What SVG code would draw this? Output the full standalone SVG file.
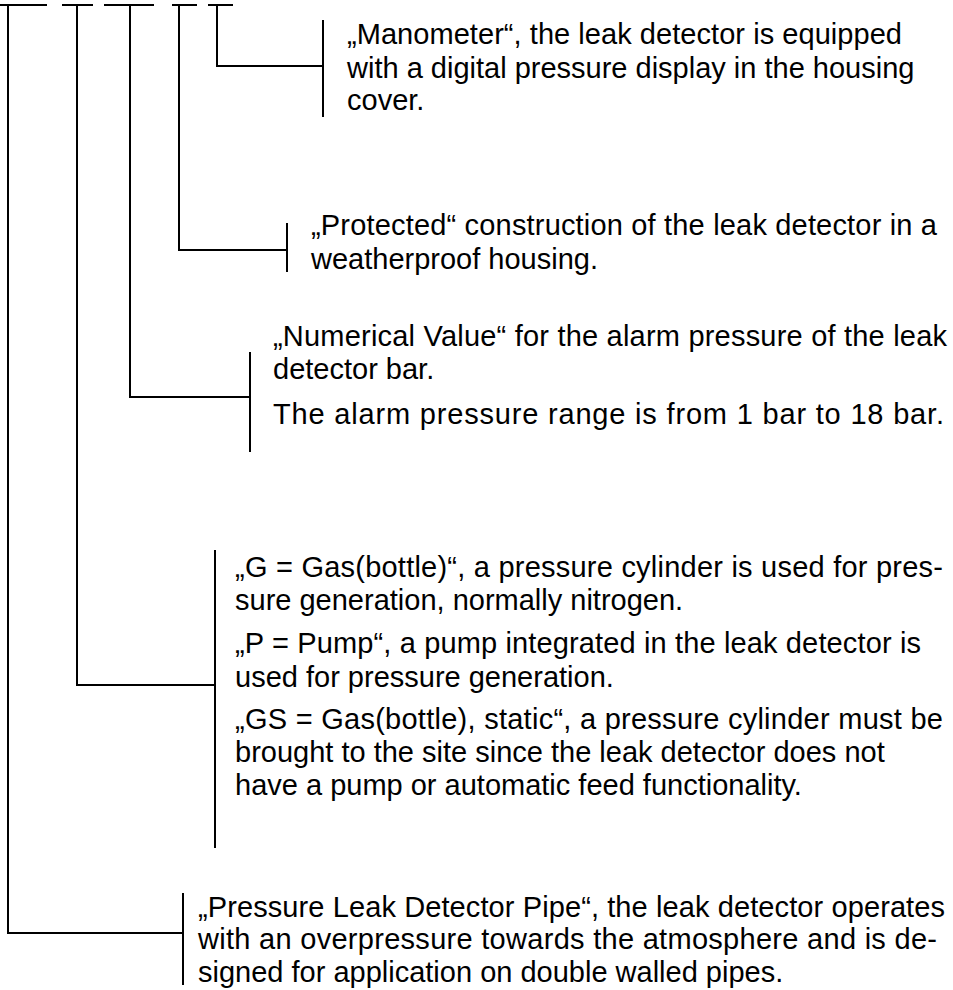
<svg xmlns="http://www.w3.org/2000/svg" width="953" height="990" viewBox="0 0 953 990">
<style>
.ln{stroke:#000;stroke-width:2;fill:none}
text{font-family:"Liberation Sans",Arial,sans-serif;font-size:29px;fill:#000}
</style>
<rect width="953" height="990" fill="#fff"/>
<g id="connectors" class="ln">
<path d="M0 5H47M62 5H93M104 5H154M172 5H197M208 5H233"/>
<path d="M8 5V933H183"/>
<path d="M77 5V685H215"/>
<path d="M130 5V397H250"/>
<path d="M179 5V250H287"/>
<path d="M217 5V66H323"/>
</g>
<g id="manometer">
<path class="ln" d="M323 20V117"/>
<text x="347" y="44" textLength="555" lengthAdjust="spacing">„Manometer“, the leak detector is equipped</text>
<text x="347" y="78">with a digital pressure display in the housing</text>
<text x="347" y="110">cover.</text>
</g>
<g id="protected">
<path class="ln" d="M287 223V272"/>
<text x="311" y="235" textLength="626" lengthAdjust="spacing">„Protected“ construction of the leak detector in a</text>
<text x="311" y="269">weatherproof housing.</text>
</g>
<g id="numerical">
<path class="ln" d="M250 352V452"/>
<text x="273" y="346" textLength="674" lengthAdjust="spacing">„Numerical Value“ for the alarm pressure of the leak</text>
<text x="273" y="379">detector bar.</text>
<text x="273" y="424" textLength="671" lengthAdjust="spacing">The alarm pressure range is from 1 bar to 18 bar.</text>
</g>
<g id="generation">
<path class="ln" d="M215 550V848"/>
<text x="235" y="577" textLength="708" lengthAdjust="spacing">„G = Gas(bottle)“, a pressure cylinder is used for pres-</text>
<text x="235" y="610">sure generation, normally nitrogen.</text>
<text x="235" y="653" textLength="686" lengthAdjust="spacing">„P = Pump“, a pump integrated in the leak detector is</text>
<text x="235" y="687">used for pressure generation.</text>
<text x="235" y="729" textLength="708" lengthAdjust="spacing">„GS = Gas(bottle), static“, a pressure cylinder must be</text>
<text x="235" y="762">brought to the site since the leak detector does not</text>
<text x="235" y="795">have a pump or automatic feed functionality.</text>
</g>
<g id="pressure">
<path class="ln" d="M183 893V985"/>
<text x="198" y="917" textLength="747" lengthAdjust="spacing">„Pressure Leak Detector Pipe“, the leak detector operates</text>
<text x="198" y="949" textLength="739" lengthAdjust="spacing">with an overpressure towards the atmosphere and is de-</text>
<text x="198" y="982">signed for application on double walled pipes.</text>
</g>
</svg>
